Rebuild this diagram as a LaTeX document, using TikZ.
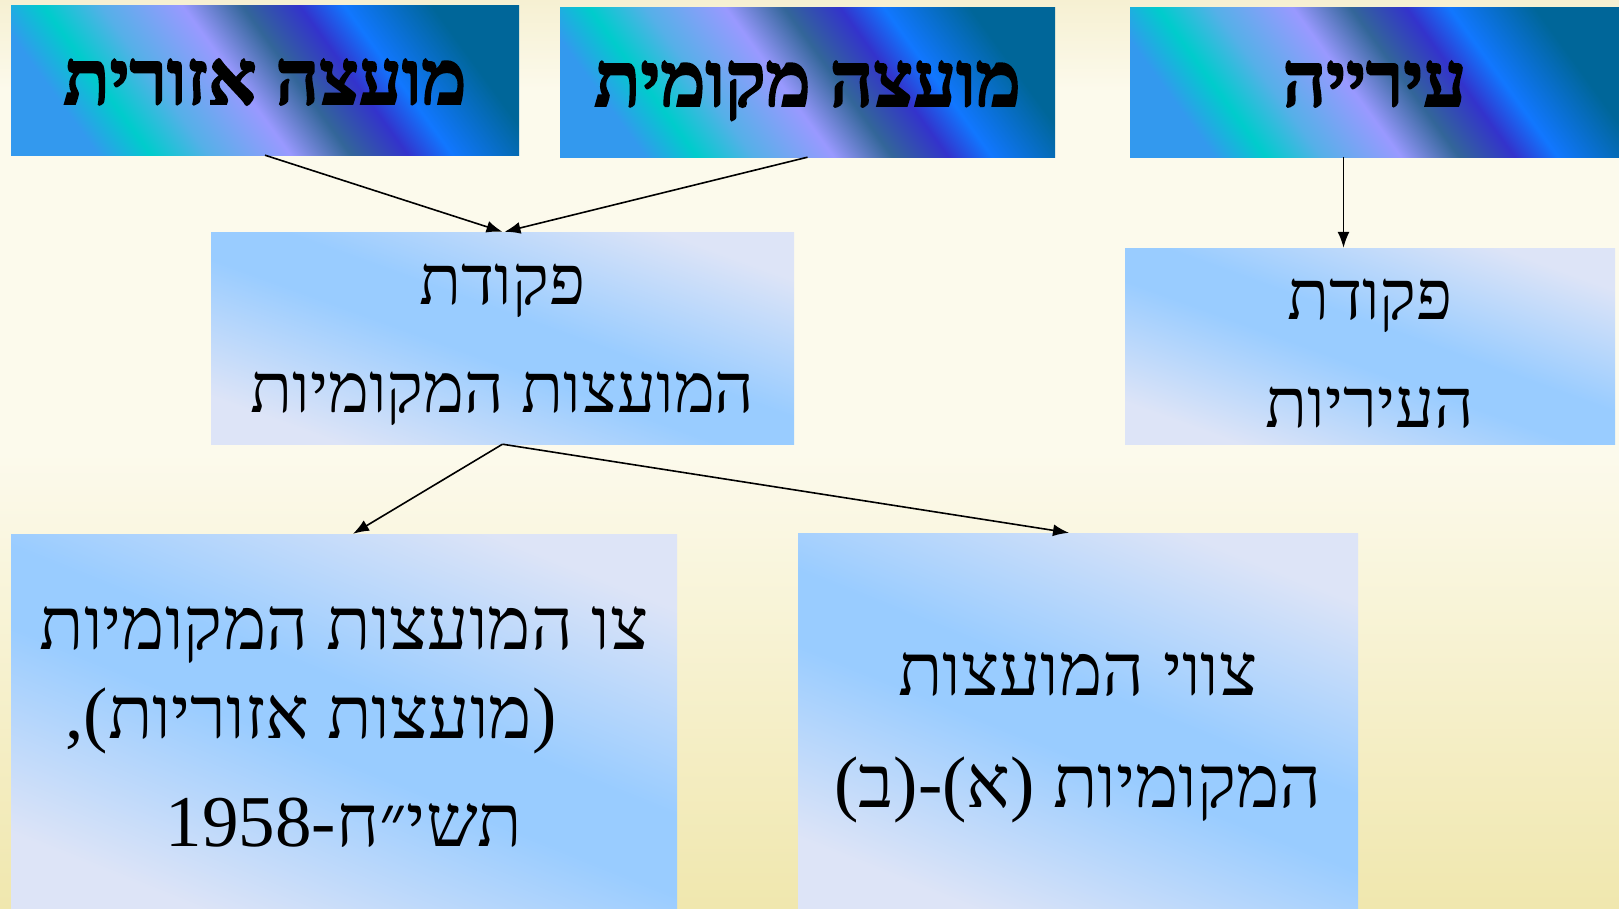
\documentclass[tikz,border=0pt]{standalone}
\usepackage{fontspec}
\usepackage{tikz}
\usetikzlibrary{arrows.meta}
\TeXXeTstate=1
\newfontfamily\hebfont[Script=Hebrew]{Liberation Serif}
\newfontfamily\hebheavy[Script=Hebrew,FakeBold=2.5]{Liberation Serif Bold}
% first line lifted by #1, which pushes the text block down
\newcommand\lowerby[2]{\raisebox{#1}{\vphantom{#2}}#2}

\definecolor{oc1}{HTML}{3399EE}
\definecolor{oc2}{HTML}{00CCCC}
\definecolor{oc3}{HTML}{55B0E8}
\definecolor{oc4}{HTML}{9999FF}
\definecolor{oc5}{HTML}{336699}
\definecolor{oc6}{HTML}{3333CC}
\definecolor{oc7}{HTML}{1177FF}
\definecolor{oc8}{HTML}{006699}
\definecolor{sky1}{HTML}{DDE4F7}
\definecolor{sky2}{HTML}{99CCFF}
\definecolor{bgtop}{HTML}{F6F0D2}
\definecolor{bgmid}{HTML}{FCFAEC}
\definecolor{bgbot}{HTML}{F0E7AE}

\pgfdeclarehorizontalshading{oceanfill}{100bp}{color(0bp)=(oc1); color(25bp)=(oc1);
  color(31bp)=(oc2); color(37.5bp)=(oc3); color(46.75bp)=(oc4); color(53.5bp)=(oc5);
  color(60bp)=(oc6); color(65bp)=(oc7); color(75bp)=(oc8); color(100bp)=(oc8)}
\pgfdeclarehorizontalshading{skyfill}{100bp}{color(0bp)=(sky1); color(25bp)=(sky1);
  color(46bp)=(sky2); color(54bp)=(sky2); color(75bp)=(sky1); color(100bp)=(sky1)}
\pgfdeclareverticalshading{paperfill}{100bp}{color(0bp)=(bgbot); color(25bp)=(bgbot);
  color(50bp)=(bgmid); color(70bp)=(bgmid); color(75bp)=(bgtop); color(100bp)=(bgtop)}

\begin{document}
\begin{tikzpicture}[x=1pt,y=-1pt,
  topbox/.style={rectangle,inner sep=0pt,shade,shading=oceanfill,shading angle=36,
    text height=48pt,text depth=0pt,font=\hebheavy\fontsize{76}{80}\selectfont},
  lawbox/.style={rectangle,inner sep=0pt,shade,shading=skyfill,shading angle=70,
    align=center,font=\hebfont\fontsize{69}{108}\selectfont},
  orderbox/.style={lawbox,shading angle=68,font=\hebfont\fontsize{73}{89}\selectfont},
  arr/.style={-{Latex[length=16pt,width=12pt]},line width=1.6pt}]
\useasboundingbox (0,0) rectangle (1619,908);
\shade[shading=paperfill] (0,0) rectangle (1619,908);

% top row
\node [topbox,minimum width=508pt,minimum height=150pt] (azorit) at (265,80)
  {\beginR מועצה אזורית\endR};
\node [topbox,minimum width=495pt,minimum height=150pt] (mekomit) at (807.5,82)
  {\beginR מועצה מקומית\endR};
\node [topbox,minimum width=489pt,minimum height=150pt] (iriya) at (1374.5,82)
  {\beginR עירייה\endR};

% ordinances
\node [lawbox,minimum width=583pt,minimum height=212pt] (pkmoatzot) at (502.5,338)
  {\beginR\lowerby{14pt}{פקודת}\endR\\ \beginR המועצות המקומיות\endR};
\node [lawbox,minimum width=490pt,minimum height=196pt] (pkiriyot) at (1370,346)
  {\beginR\lowerby{16pt}{פקודת}\endR\\ \beginR העיריות\endR};

% orders
\node [orderbox,minimum width=666pt,minimum height=374pt] (tzoazori) at (344,721)
  {\beginR\lowerby{12pt}{צו המועצות המקומיות}\endR\\
   \beginR\hspace*{66pt}(מועצות אזוריות),\endR\\[19pt]
   \beginR תשי״ח-\beginL 1958\endL\endR};
\node [orderbox,minimum width=560pt,minimum height=375pt] (tzavei) at (1078,720.5)
  {\beginR\lowerby{35pt}{צווי המועצות}\endR\\[23pt] \beginR המקומיות (א)-(ב)\endR};

\draw [arr] (azorit.south) -- ([xshift=0pt]pkmoatzot.north);
\draw [arr] (mekomit.south) -- ([xshift=2pt]pkmoatzot.north);
\draw [arr] ([xshift=-31pt]iriya.south) -- ([xshift=-31pt]iriya.south |- pkiriyot.north);
\draw [arr] (pkmoatzot.south) -- ([xshift=9pt]tzoazori.north);
\draw [arr] (pkmoatzot.south) -- ([xshift=-9pt]tzavei.north);
\end{tikzpicture}
\end{document}
